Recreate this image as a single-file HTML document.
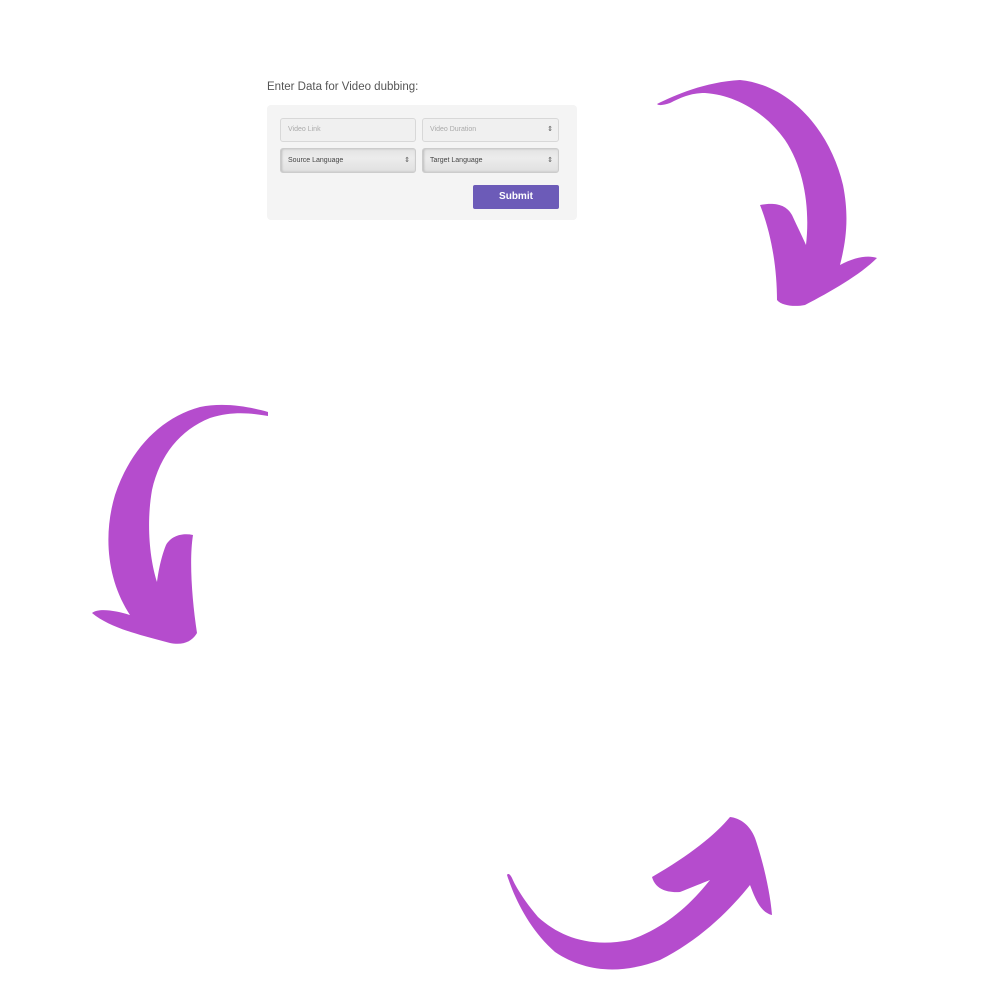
<!DOCTYPE html>
<html><head><meta charset="utf-8"><style>
html,body{margin:0;padding:0;width:1000px;height:1000px;background:#fff;overflow:hidden;font-family:"Liberation Sans",sans-serif}
.t{position:absolute;left:267px;top:81px;font-size:11.5px;color:#555}
.panel{position:absolute;left:267px;top:105px;width:310px;height:115px;background:#f4f4f4;border-radius:4px}
.f{position:absolute;box-sizing:border-box;border:1px solid #d8d8d8;border-radius:3px;font-size:7px;color:#aaa;padding-left:7px;line-height:22px;background:#f0f0f0}
.s{background:linear-gradient(#e4e4e4,#ececec 40%,#e0e0e0);color:#444;border-color:#ccc;box-shadow:inset 1px 0 2px #bbb}
.ar{position:absolute;right:5px;top:0;font-size:7px;color:#555}
.btn{position:absolute;left:473px;top:185px;width:86px;height:24px;background:#6c5bb8;border-radius:2px;color:#fff;font-weight:bold;font-size:10px;text-align:center;line-height:24px}
</style></head><body>
<div class="t">Enter Data for Video dubbing:</div>
<div class="panel"></div>
<div class="f" style="left:280px;top:118px;width:136px;height:24px">Video Link</div>
<div class="f" style="left:422px;top:118px;width:137px;height:24px">Video Duration<span class="ar">⇕</span></div>
<div class="f s" style="left:280px;top:148px;width:136px;height:25px;line-height:23px">Source Language<span class="ar">⇕</span></div>
<div class="f s" style="left:422px;top:148px;width:137px;height:25px;line-height:23px">Target Language<span class="ar">⇕</span></div>
<div class="btn">Submit</div>
<svg width="1000" height="1000" style="position:absolute;left:0;top:0" fill="#b54ccd">
<path d="M657,104 C675,95 705,82 740,80 C790,85 830,130 843,185 C850,220 845,245 840,265 C855,257 868,255 877,258 C860,275 830,292 805,305 C795,307 782,306 777,300 C777,270 772,235 760,205 C770,203 785,202 792,215 C798,228 803,238 806,245 C810,210 805,170 785,140 C765,112 735,95 705,93 C690,93 680,98 670,103 C664,105 659,106 657,104 Z"/>
<path d="M268,412 C250,407 225,402 200,407 C160,418 130,450 115,495 C103,535 107,580 130,615 C120,612 100,607 92,613 C110,628 140,635 170,643 C185,646 193,640 197,633 C192,600 189,560 193,535 C183,533 172,535 166,545 C160,560 158,575 157,582 C150,560 146,525 152,490 C160,455 180,430 210,418 C235,410 255,414 268,416 Z"/>
<path d="M507,875 C515,900 530,930 555,952 C585,972 620,975 660,960 C700,940 730,910 750,885 C755,898 760,912 772,915 C770,890 762,858 755,838 C750,825 740,818 730,817 C715,835 690,855 652,877 C655,888 665,893 680,892 C695,886 705,882 710,880 C690,905 665,928 630,940 C590,948 560,937 538,917 C522,898 515,885 512,878 C510,874 508,873 507,875 Z"/>
</svg>
</body></html>
